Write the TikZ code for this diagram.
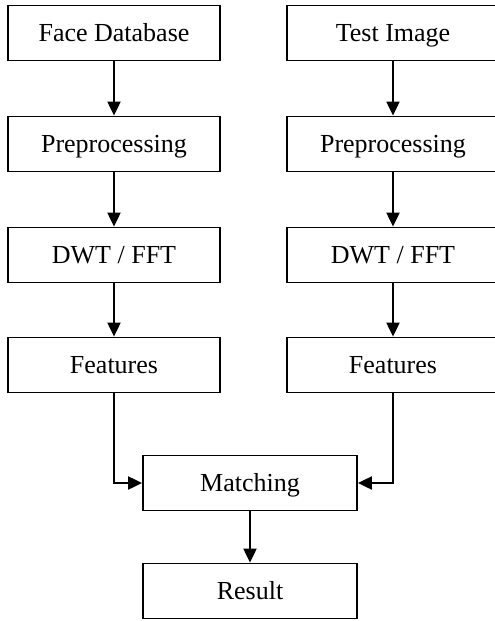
\documentclass[tikz,border=0pt]{standalone}
\usepackage{fontspec}
\setmainfont{Liberation Serif}
\usetikzlibrary{arrows.meta}
\begin{document}
\begin{tikzpicture}[x=1pt, y=1pt, >={Triangle[length=14pt, width=13pt]},
  every node/.style={font=\fontsize{26}{30}\selectfont},
  box/.style={draw, line width=1.8pt, minimum width=212pt, minimum height=55pt,
    text height=17pt, text depth=0pt, inner sep=2pt}]
  \useasboundingbox (0, 0) rectangle (495, -621);
  % left column
  \node[box] (fdb)   at (114, -33)  {Face Database};
  \node[box] (pre1)  at (114, -144) {Preprocessing};
  \node[box] (dwt1)  at (114, -255) {DWT / FFT};
  \node[box] (feat1) at (114, -365) {Features};
  % right column
  \node[box] (test)  at (393, -33)  {Test Image};
  \node[box] (pre2)  at (393, -144) {Preprocessing};
  \node[box] (dwt2)  at (393, -255) {DWT / FFT};
  \node[box] (feat2) at (393, -365) {Features};
  % bottom
  \node[box, minimum width=214pt] (match)  at (250, -483) {Matching};
  \node[box, minimum width=214pt] (result) at (250, -591) {Result};
  \begin{scope}[line width=2pt]
    \draw[->] (fdb) -- (pre1);
    \draw[->] (pre1) -- (dwt1);
    \draw[->] (dwt1) -- (feat1);
    \draw[->] (test) -- (pre2);
    \draw[->] (pre2) -- (dwt2);
    \draw[->] (dwt2) -- (feat2);
    \draw[->] (feat1) |- (match);
    \draw[->] (feat2) |- (match);
    \draw[->] (match) -- (result);
  \end{scope}
\end{tikzpicture}
\end{document}
